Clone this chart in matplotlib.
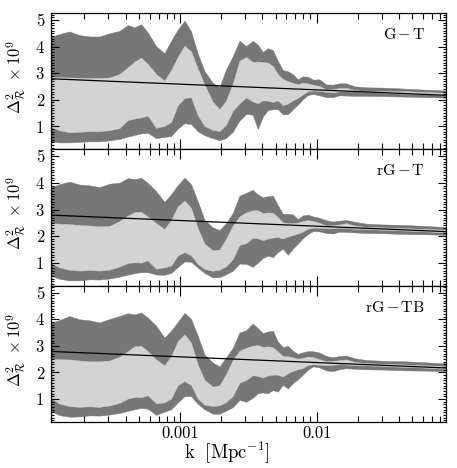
import numpy as np
import matplotlib
matplotlib.use("Agg")
import matplotlib.pyplot as plt
from matplotlib.ticker import FixedLocator, MultipleLocator, LogLocator, NullFormatter

plt.rcParams['font.family'] = 'serif'
plt.rcParams['font.serif'] = ['cmr10', 'DejaVu Serif']
plt.rcParams['mathtext.fontset'] = 'cm'
plt.rcParams['axes.unicode_minus'] = False

# ---------------- data ----------------
# shared wavenumber grid, log10(k / Mpc^-1)
log10_k = [-3.951, -3.878, -3.805, -3.732, -3.658, -3.585, -3.512, -3.439, -3.378, -3.329,
           -3.280, -3.232, -3.171, -3.110, -3.061, -3.012, -2.963, -2.915, -2.866, -2.817,
           -2.756, -2.707, -2.659, -2.610, -2.561, -2.512, -2.464, -2.427, -2.390, -2.354,
           -2.317, -2.281, -2.244, -2.207, -2.171, -2.134, -2.098, -2.061, -2.024, -1.976,
           -1.927, -1.878, -1.830, -1.781, -1.720, -1.634, -1.513, -1.342, -1.196, -1.040]

# panel G-T
gt_upper_outer = [4.32, 4.45, 4.55, 4.41, 4.36, 4.36, 4.48, 4.57, 4.79, 4.70,
                  4.82, 4.51, 4.00, 3.73, 4.20, 4.62, 4.95, 4.55, 3.72, 3.06,
                  2.62, 2.47, 3.12, 3.62, 4.20, 4.00, 4.20, 4.05, 3.78, 3.92,
                  3.85, 3.45, 3.10, 3.05, 2.95, 2.75, 2.86, 2.85, 2.74, 2.75,
                  2.56, 2.55, 2.60, 2.60, 2.49, 2.45, 2.44, 2.40, 2.36, 2.33]
gt_upper_inner = [2.85, 2.83, 2.82, 2.81, 2.80, 2.80, 2.82, 2.95, 3.20, 3.42,
                  3.56, 3.33, 2.95, 2.70, 3.10, 3.60, 4.02, 3.80, 3.15, 2.55,
                  1.90, 1.63, 1.95, 2.60, 3.45, 3.59, 3.40, 3.42, 3.40, 3.38,
                  3.25, 2.95, 2.76, 2.68, 2.62, 2.56, 2.63, 2.60, 2.55, 2.50,
                  2.37, 2.39, 2.42, 2.43, 2.35, 2.30, 2.31, 2.30, 2.27, 2.24]
gt_lower_inner = [0.99, 0.84, 0.76, 0.78, 0.80, 0.80, 0.84, 0.92, 1.22, 1.28,
                  1.32, 1.39, 0.93, 1.00, 1.15, 1.78, 2.05, 2.08, 1.40, 1.00,
                  0.85, 0.81, 1.05, 1.57, 1.85, 2.07, 1.92, 1.85, 1.96, 1.95,
                  1.90, 1.96, 1.78, 1.84, 1.96, 2.06, 2.18, 2.30, 2.33, 2.32,
                  2.28, 2.26, 2.30, 2.31, 2.30, 2.28, 2.25, 2.21, 2.19, 2.16]
gt_lower_outer = [0.42, 0.38, 0.38, 0.40, 0.42, 0.42, 0.46, 0.51, 0.60, 0.66,
                  0.72, 0.74, 0.54, 0.59, 0.62, 0.90, 1.10, 1.07, 0.80, 0.65,
                  0.54, 0.46, 0.55, 0.78, 1.20, 1.45, 1.42, 0.88, 1.35, 1.59,
                  1.63, 1.63, 1.44, 1.44, 1.62, 1.80, 2.00, 2.16, 2.20, 2.15,
                  2.08, 2.08, 2.15, 2.14, 2.13, 2.13, 2.12, 2.10, 2.08, 2.06]

# panel rG-T
rgt_upper_outer = [3.80, 3.93, 4.03, 3.92, 3.89, 3.82, 3.95, 3.99, 4.16, 4.12,
                   4.17, 3.98, 3.67, 3.27, 3.55, 3.90, 4.18, 3.93, 3.29, 2.59,
                   2.31, 2.21, 2.47, 2.85, 3.50, 3.61, 3.72, 3.55, 3.44, 3.48,
                   3.50, 3.15, 2.82, 2.82, 2.80, 2.62, 2.76, 2.79, 2.72, 2.67,
                   2.58, 2.53, 2.56, 2.59, 2.52, 2.45, 2.42, 2.40, 2.36, 2.32]
rgt_upper_inner = [2.47, 2.45, 2.43, 2.40, 2.38, 2.35, 2.36, 2.55, 2.75, 2.88,
                   2.90, 2.72, 2.47, 2.25, 2.59, 3.10, 3.32, 3.04, 2.27, 1.70,
                   1.45, 1.48, 1.88, 2.38, 2.72, 2.88, 2.95, 2.95, 2.85, 2.87,
                   2.86, 2.70, 2.50, 2.47, 2.47, 2.49, 2.55, 2.58, 2.55, 2.48,
                   2.38, 2.39, 2.42, 2.47, 2.38, 2.33, 2.31, 2.28, 2.25, 2.22]
rgt_lower_inner = [1.00, 0.81, 0.72, 0.69, 0.71, 0.69, 0.72, 0.84, 0.97, 1.00,
                   0.99, 1.07, 0.76, 0.81, 0.88, 1.26, 1.38, 1.26, 0.94, 0.75,
                   0.68, 0.72, 0.85, 1.12, 1.65, 1.72, 1.92, 1.90, 1.83, 1.89,
                   1.93, 1.95, 1.89, 1.97, 2.02, 2.08, 2.15, 2.26, 2.30, 2.30,
                   2.28, 2.28, 2.30, 2.28, 2.26, 2.25, 2.22, 2.19, 2.16, 2.12]
rgt_lower_outer = [0.52, 0.38, 0.32, 0.32, 0.36, 0.35, 0.39, 0.46, 0.53, 0.59,
                   0.63, 0.63, 0.54, 0.53, 0.60, 0.82, 1.03, 1.02, 0.80, 0.60,
                   0.43, 0.44, 0.55, 0.68, 0.95, 0.94, 0.83, 0.98, 1.16, 1.25,
                   1.19, 1.38, 1.51, 1.28, 1.51, 1.70, 1.90, 2.06, 2.17, 2.16,
                   2.10, 2.08, 2.15, 2.14, 2.12, 2.10, 2.09, 2.06, 2.05, 2.03]

# panel rG-TB
rgtb_upper_outer = [3.83, 3.95, 4.10, 3.98, 3.94, 3.86, 3.99, 4.10, 4.21, 4.16,
                    4.23, 4.04, 3.74, 3.29, 3.55, 3.88, 4.22, 3.99, 3.36, 2.66,
                    2.35, 2.21, 2.55, 2.91, 3.48, 3.57, 3.82, 3.65, 3.46, 3.52,
                    3.55, 3.15, 2.93, 2.98, 2.80, 2.68, 2.74, 2.78, 2.78, 2.73,
                    2.60, 2.55, 2.60, 2.62, 2.52, 2.45, 2.42, 2.40, 2.36, 2.32]
rgtb_upper_inner = [2.50, 2.48, 2.47, 2.43, 2.40, 2.40, 2.43, 2.57, 2.78, 2.96,
                    2.98, 2.78, 2.47, 2.25, 2.59, 3.17, 3.42, 3.10, 2.27, 1.70,
                    1.45, 1.50, 1.92, 2.45, 2.80, 2.91, 2.99, 3.01, 2.94, 2.96,
                    2.93, 2.78, 2.59, 2.59, 2.55, 2.50, 2.53, 2.58, 2.56, 2.48,
                    2.40, 2.42, 2.44, 2.47, 2.38, 2.33, 2.31, 2.28, 2.25, 2.22]
rgtb_lower_inner = [1.07, 0.81, 0.72, 0.69, 0.71, 0.69, 0.74, 0.84, 1.00, 1.06,
                    1.05, 1.13, 0.82, 0.86, 1.00, 1.51, 1.66, 1.51, 1.00, 0.77,
                    0.72, 0.75, 0.87, 1.10, 1.60, 1.70, 1.88, 1.85, 1.79, 1.87,
                    1.90, 1.90, 1.83, 1.96, 2.04, 2.10, 2.15, 2.26, 2.29, 2.27,
                    2.26, 2.27, 2.30, 2.28, 2.26, 2.25, 2.22, 2.19, 2.16, 2.12]
rgtb_lower_outer = [0.56, 0.38, 0.32, 0.33, 0.37, 0.36, 0.40, 0.46, 0.54, 0.60,
                    0.65, 0.62, 0.39, 0.51, 0.60, 0.86, 1.09, 1.09, 0.80, 0.60,
                    0.43, 0.43, 0.55, 0.68, 0.95, 0.88, 1.03, 1.20, 1.23, 1.20,
                    1.32, 1.26, 1.51, 1.38, 1.58, 1.72, 1.90, 2.08, 2.21, 2.17,
                    2.06, 2.03, 2.10, 2.14, 2.12, 2.10, 2.09, 2.06, 2.05, 2.03]

panel_labels = [r'$\mathrm{G}\,{-}\,\mathrm{T}$', r'$\mathrm{rG}\,{-}\,\mathrm{T}$',
                r'$\mathrm{rG}\,{-}\,\mathrm{TB}$']

# fiducial power-law spectrum (end points across the plotted k range)
fid_k = [1.14e-4, 8.83e-2]
fid_values = [2.79, 2.17]

y_ticks = [1, 2, 3, 4, 5]
x_ticks = [1e-3, 1e-2]
x_tick_labels = ['0.001', '0.01']

# ---------------- plot ----------------
dark = '#777777'
light = '#d3d3d3'

bands = [
    (gt_upper_outer, gt_upper_inner, gt_lower_inner, gt_lower_outer),
    (rgt_upper_outer, rgt_upper_inner, rgt_lower_inner, rgt_lower_outer),
    (rgtb_upper_outer, rgtb_upper_inner, rgtb_lower_inner, rgtb_lower_outer),
]

k = 10 ** np.array(log10_k)
kk = np.concatenate([k, k[::-1]])

fig = plt.figure(figsize=(4.57, 4.68), dpi=100)
left = 51 / 457
width = 395 / 457
top = 1 - 13 / 468
h = 409 / 468 / 3

for i, (uo, ui, li, lo) in enumerate(bands):
    ax = fig.add_axes([left, top - (i + 1) * h, width, h])
    ax.fill(kk, np.concatenate([uo, lo[::-1]]), color=dark, lw=0.3, ec=dark)
    ax.fill(kk, np.concatenate([ui, li[::-1]]), color=light, lw=0.3, ec=light)
    ax.plot(fid_k, fid_values, color='black', lw=0.9)
    ax.set_xscale('log')
    ax.set_xlim(1.14e-4, 8.83e-2)
    ax.set_ylim(0.14, 5.26)
    ax.yaxis.set_major_locator(FixedLocator(y_ticks))
    ax.yaxis.set_minor_locator(MultipleLocator(0.1))
    ax.xaxis.set_major_locator(FixedLocator(x_ticks))
    ax.xaxis.set_minor_locator(LogLocator(base=10, subs=np.arange(2, 10)))
    ax.xaxis.set_minor_formatter(NullFormatter())
    ax.tick_params(which='both', direction='in', top=True, right=True, width=0.8)
    ax.tick_params(axis='x', which='major', length=7.5, pad=2.5)
    ax.tick_params(axis='x', which='minor', length=4)
    ax.tick_params(axis='y', which='major', length=6, pad=5)
    ax.tick_params(axis='y', which='minor', length=2.5)
    ax.tick_params(axis='both', labelsize=12)
    for s in ax.spines.values():
        s.set_linewidth(0.9)
    ax.text(0.947, 0.81, panel_labels[i], transform=ax.transAxes,
            ha='right', va='baseline', fontsize=11.5)
    ax.set_ylabel(r'$\Delta^2_{\mathcal{R}}\ \times 10^9$', fontsize=12)
    ax.yaxis.set_label_coords(-0.058, 0.53)
    if i < 2:
        ax.tick_params(axis='x', labelbottom=False)
    else:
        ax.set_xticklabels(x_tick_labels)
        ax.set_xlabel(r'$\mathrm{k\ \ [Mpc^{-1}]}$', fontsize=13.5)
        ax.xaxis.set_label_coords(0.445, -0.125)

fig.savefig('out.png', dpi=100)
